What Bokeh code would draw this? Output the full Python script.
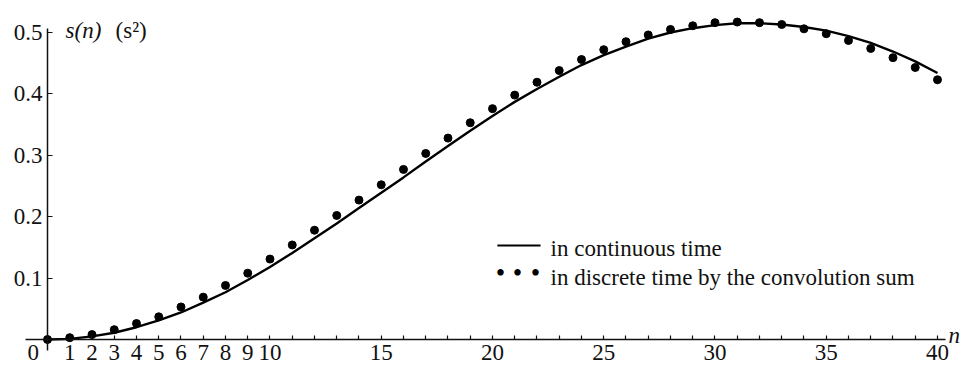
from bokeh.plotting import figure
from bokeh.models import Range1d, FixedTicker, Label, LinearAxis, BoxAnnotation
from bokeh.embed import file_html
from bokeh.resources import INLINE

# ---- data ----
n_values = list(range(41))
s_discrete = [0.000, 0.003, 0.008, 0.016, 0.026, 0.037, 0.053, 0.069, 0.088, 0.108,
              0.131, 0.154, 0.178, 0.202, 0.227, 0.252, 0.277, 0.303, 0.328, 0.353,
              0.376, 0.398, 0.419, 0.438, 0.456, 0.472, 0.485, 0.496, 0.505, 0.511,
              0.516, 0.517, 0.516, 0.513, 0.506, 0.498, 0.487, 0.474, 0.459, 0.443,
              0.423]
s_continuous = [0.000, 0.001, 0.005, 0.011, 0.020, 0.031, 0.044, 0.060, 0.077, 0.097,
                0.118, 0.141, 0.165, 0.189, 0.214, 0.239, 0.264, 0.290, 0.315, 0.340,
                0.364, 0.387, 0.408, 0.428, 0.447, 0.463, 0.477, 0.490, 0.500, 0.507,
                0.512, 0.515, 0.515, 0.513, 0.509, 0.503, 0.494, 0.483, 0.469, 0.453,
                0.434]
x_ticks = list(range(41))
x_labelled = [0, 1, 2, 3, 4, 5, 6, 7, 8, 9, 10, 15, 20, 25, 30, 35, 40]
y_ticks = [0.1, 0.2, 0.3, 0.4, 0.5]
legend_labels = ["in continuous time", "in discrete time by the convolution sum"]

FONT = "'Liberation Serif'"
INK = "#111111"

p = figure(width=964, height=367,
           x_range=Range1d(-2.1124, 41.214), y_range=Range1d(-0.0456, 0.5521),
           output_backend="svg", toolbar_location=None,
           x_axis_type=None, y_axis_type=None,
           min_border=0, min_border_left=0, min_border_right=0,
           min_border_top=0, min_border_bottom=0)
p.outline_line_color = None
p.background_fill_color = "white"
p.border_fill_color = "white"
p.xgrid.visible = False
p.ygrid.visible = False

overrides = {}
for t in x_ticks:
    if t == 0:
        overrides[t] = "0" + "\u00a0" * 5
    elif t in x_labelled:
        overrides[t] = str(t)
    else:
        overrides[t] = ""

xaxis = LinearAxis(ticker=FixedTicker(ticks=x_ticks, minor_ticks=[]),
                   fixed_location=0, bounds=(-0.99, 40.36),
                   major_label_overrides=overrides,
                   major_tick_in=4, major_tick_out=0,
                   minor_tick_in=0, minor_tick_out=0,
                   axis_line_width=1.5, axis_line_color=INK,
                   major_tick_line_color=INK, major_tick_line_width=1.2,
                   major_label_standoff=0,
                   major_label_text_font=FONT, major_label_text_font_size="23px",
                   major_label_text_color=INK)
p.add_layout(xaxis, "below")

yaxis = LinearAxis(ticker=FixedTicker(ticks=y_ticks, minor_ticks=[]),
                   fixed_location=0, bounds=(-0.018, 0.5065),
                   major_tick_in=5, major_tick_out=0,
                   minor_tick_in=0, minor_tick_out=0,
                   axis_line_width=1.5, axis_line_color=INK,
                   major_tick_line_color=INK, major_tick_line_width=1.2,
                   major_label_standoff=5,
                   major_label_text_font=FONT, major_label_text_font_size="23px",
                   major_label_text_color=INK)
p.add_layout(yaxis, "left")

p.line(n_values, s_continuous, line_color="black", line_width=2.4)
p.scatter(n_values, s_discrete, size=8, marker="circle",
          fill_color="black", line_color="black")

# ---- legend (drawn as annotations) ----
p.add_layout(BoxAnnotation(left=20.22, right=22.16, bottom=0.1515, top=0.1547,
                           fill_color="black", fill_alpha=1.0,
                           line_color=None))
for bx in (20.36, 21.12, 21.93):
    p.add_layout(Label(x=bx, y=0.1091, text="\u2022", text_font=FONT,
                       text_font_size="27px", text_color="black",
                       text_align="center", text_baseline="middle"))
p.add_layout(Label(x=22.61, y=0.1482, text=legend_labels[0], text_font=FONT,
                   text_font_size="23px", text_color=INK,
                   text_baseline="alphabetic"))
p.add_layout(Label(x=22.61, y=0.1010, text=legend_labels[1], text_font=FONT,
                   text_font_size="23px", text_color=INK,
                   text_baseline="alphabetic"))

# ---- axis titles ----
p.add_layout(Label(x=0.81, y=0.5033, text="s(n)", text_font=FONT,
                   text_font_style="italic", text_font_size="23px",
                   text_color=INK, text_baseline="alphabetic"))
p.add_layout(Label(x=3.06, y=0.5033, text="(s\u00b2)", text_font=FONT,
                   text_font_size="23px", text_color=INK,
                   text_baseline="alphabetic"))
p.add_layout(Label(x=40.49, y=0.0065, text="n", text_font=FONT,
                   text_font_style="italic", text_font_size="23px",
                   text_color=INK, text_baseline="alphabetic"))

open("out.html", "w").write(file_html(p, INLINE))
